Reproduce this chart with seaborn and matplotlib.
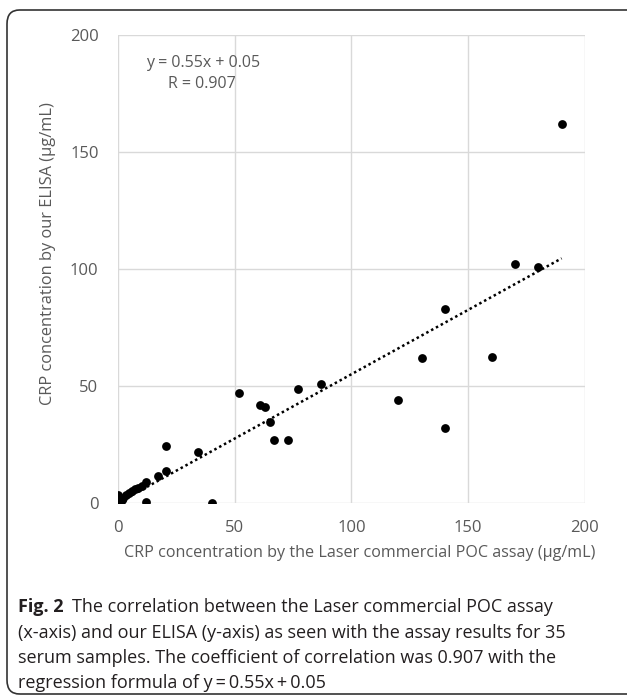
import matplotlib
matplotlib.use("Agg")
import matplotlib.pyplot as plt
import numpy as np
import pandas as pd
import seaborn as sns
from matplotlib.patches import FancyBboxPatch

# assay results (ug/mL): Laser POC (x) vs our ELISA (y)
poc_x = [190, 170, 180, 140, 130, 160, 120, 140,
         52, 61, 63, 65, 67, 73, 77, 87,
         20.6, 34.4, 20.4, 17.3, 11.9, 10.1, 8.7, 7.3, 6.1, 3.3,
         0.1, 0, 1.6, 11.9, 40.4, 0.5, 1, 2.2, 4.5]
elisa_y = [162, 102, 101, 83, 62, 62.5, 44, 32,
           47, 42, 41, 34.5, 27, 27, 48.7, 51,
           24.2, 21.7, 13.7, 11.7, 9.1, 7.3, 6.5, 6, 5.3, 3.4,
           3.4, 0.6, 1.3, 0.3, 0.1, 0.2, 0.9, 2, 4.2]
slope, intercept = 0.55, 0.05
fit_x = [0, 190]

GRAY = "#595959"
GRID = "#d9d9d9"
TXT = "#231f20"

df = pd.DataFrame({"poc": poc_x, "elisa": elisa_y})
fit_df = pd.DataFrame({"x": fit_x, "y": [slope * v + intercept for v in fit_x]})

sns.set_theme(style="white")
plt.rcParams["font.family"] = ["Open Sans", "DejaVu Sans"]

fig = plt.figure(figsize=(6.27, 6.95), dpi=100)
ax = fig.add_axes([0.1882, 0.2763, 0.7448, 0.6733])

sns.lineplot(data=fit_df, x="x", y="y", ax=ax, color="black", linestyle=(0, (1, 1.2)),
             linewidth=1.8, zorder=2)
sns.scatterplot(data=df, x="poc", y="elisa", ax=ax, color="black", s=40,
                edgecolor="black", linewidth=0, zorder=3)

ax.set_xlim(0, 200)
ax.set_ylim(0, 200)
ax.set_xticks([0, 50, 100, 150, 200])
ax.set_yticks([0, 50, 100, 150, 200])
ax.grid(True, color=GRID, linewidth=1)
ax.set_axisbelow(True)
for s in ax.spines.values():
    s.set_visible(False)
ax.tick_params(axis="both", length=0, labelsize=12, labelcolor=GRAY, pad=14)
ax.tick_params(axis="x", pad=12)
ax.set_xlabel("")
ax.set_ylabel("")

ax.text(0.06, 0.94, "y = 0.55x + 0.05", transform=ax.transAxes, fontsize=11.5, color=GRAY,
        ha="left", va="center")
ax.text(0.107, 0.896, "R = 0.907", transform=ax.transAxes, fontsize=11.5, color=GRAY,
        ha="left", va="center")

fig.text(360 / 627, 1 - 553 / 695, "CRP concentration by the Laser commercial POC assay (\u00b5g/mL)",
         ha="center", va="center", fontsize=11.6, color=GRAY)
fig.text(48 / 627, 1 - 254 / 695, "CRP concentration by our ELISA (\u00b5g/mL)",
         ha="center", va="center", rotation=90, fontsize=11.8, color=GRAY)

# caption
cap_x = 18 / 627
fig.text(cap_x, 1 - 607 / 695, "Fig. 2", ha="left", va="center", fontsize=13,
         fontweight="bold", color=TXT)
fig.text(cap_x + 54 / 627, 1 - 607 / 695, "The correlation between the Laser commercial POC assay",
         ha="left", va="center", fontsize=13, color=TXT)
lines = ["(x-axis) and our ELISA (y-axis) as seen with the assay results for 35",
         "serum samples. The coefficient of correlation was 0.907 with the",
         "regression formula of y\u2009=\u20090.55x\u2009+\u20090.05"]
for i, ln in enumerate(lines):
    fig.text(cap_x, 1 - (633 + 25.2 * i) / 695, ln, ha="left", va="center", fontsize=13,
             color=TXT)

box = FancyBboxPatch((7 / 627, 1 / 695), 1.2, 1 - 11 / 695, transform=fig.transFigure,
                     boxstyle="round,pad=0,rounding_size=0.02", fill=False,
                     edgecolor="#333333", linewidth=1.2)
fig.patches.append(box)

fig.savefig("out.png", dpi=100)
